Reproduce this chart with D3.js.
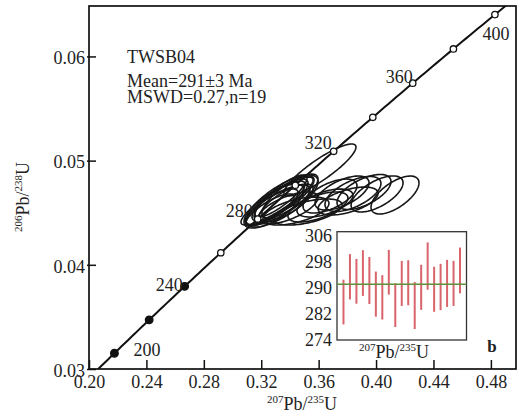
<!DOCTYPE html>
<html><head><meta charset="utf-8">
<script src="https://cdn.jsdelivr.net/npm/d3@7/dist/d3.min.js"></script>
<style>
html,body{margin:0;padding:0;background:#fff;}
svg{display:block;font-family:"Liberation Serif","Times New Roman",serif;}
</style></head><body>
<svg id="chart" width="521" height="414"></svg>
<script>
// Axis ticks
const xTicks = [0.20, 0.24, 0.28, 0.32, 0.36, 0.40, 0.44, 0.48];
const yTicks = [0.03, 0.04, 0.05, 0.06];

// Concordia age marks (Ma)
const markAges = [200, 220, 240, 260, 280, 300, 320, 340, 360, 380, 400];
const filledAges = [200, 220, 240];
const labelAges = [200, 240, 280, 320, 360, 400];

// Zircon spot analyses: 207Pb/235U, 206Pb/238U, errors and error correlation
const spotX  = [0.3296,0.3331,0.3275,0.3359,0.3317,0.3261,0.3373,0.3338,0.3310,0.3386,0.3442,0.3526,0.3595,0.3609,0.3679,0.3763,0.3839,0.3916,0.4007,0.4132,0.3805,0.3644,0.3345,0.3289,0.3400];
const spotSX = [0.0209,0.0195,0.0181,0.0209,0.0223,0.0167,0.0188,0.0181,0.0251,0.0209,0.0230,0.0237,0.0209,0.0251,0.0188,0.0188,0.0195,0.0188,0.0181,0.0167,0.0209,0.0195,0.0251,0.0209,0.0195];
const spotY  = [0.04593,0.04622,0.04555,0.04641,0.04574,0.04526,0.04593,0.04660,0.04612,0.04545,0.04516,0.04507,0.04555,0.04910,0.04660,0.04689,0.04680,0.04699,0.04680,0.04670,0.04612,0.04593,0.04612,0.04564,0.04660];
const spotSY = [0.00211,0.00202,0.00173,0.00211,0.00192,0.00154,0.00182,0.00202,0.00230,0.00154,0.00134,0.00125,0.00144,0.00250,0.00163,0.00163,0.00168,0.00168,0.00173,0.00182,0.00134,0.00134,0.00250,0.00211,0.00211];
const spotRho = [0.85,0.80,0.80,0.82,0.78,0.80,0.75,0.85,0.88,0.65,0.55,0.55,0.60,0.88,0.60,0.60,0.60,0.60,0.62,0.64,0.55,0.55,0.75,0.72,0.78];

// Inset: 206Pb/238U ages (Ma) with error bars
const insetTicks = [306, 298, 290, 282, 274];
const ageHigh = [292.4,300.3,298.8,301.5,299.4,294.9,293.8,301.6,291.3,298.2,298.4,291.7,297.0,303.9,296.4,297.3,298.5,298.2,302.3];
const ageLow  = [278.6,286.3,285.0,287.4,284.9,281.0,280.1,287.8,277.8,284.3,284.5,277.2,283.1,289.3,282.5,283.0,284.0,284.3,288.2];
const meanAge = 291;

const svg = d3.select("#chart");
const L = 89, R = 516, T = 6, B = 369;

const x = d3.scaleLinear().domain([0.20, 0.4975]).range([L, R]);
const y = d3.scaleLinear().domain([0.03, 0.06484]).range([B, T]);

// Decay constants (per year)
const l238 = 1.55125e-10, l235 = 9.8485e-10;
const conc = t => ({ r75: Math.exp(l235 * t * 1e6) - 1, r68: Math.exp(l238 * t * 1e6) - 1 });

svg.append("defs").append("clipPath").attr("id", "plotClip")
  .append("rect").attr("x", L).attr("y", T).attr("width", R - L).attr("height", B - T);

const plot = svg.append("g").attr("clip-path", "url(#plotClip)");

// Concordia curve
const curve = d3.range(150, 460, 2).map(conc);
plot.append("path")
  .datum(curve)
  .attr("d", d3.line().x(d => x(d.r75)).y(d => y(d.r68)))
  .attr("fill", "none").attr("stroke", "#111").attr("stroke-width", 2);

// Error ellipses
const ellipseLine = d3.line().x(d => x(d[0])).y(d => y(d[1])).curve(d3.curveLinearClosed);
const spots = spotX.map((v, i) => ({ cx: v, sx: spotSX[i], cy: spotY[i], sy: spotSY[i], rho: spotRho[i] }));
plot.selectAll("path.ell").data(spots).join("path")
  .attr("class", "ell")
  .attr("d", s => {
    const k = Math.sqrt(1 - s.rho * s.rho);
    const pts = d3.range(0, 2 * Math.PI, Math.PI / 60).map(a =>
      [s.cx + s.sx * Math.cos(a), s.cy + s.sy * (s.rho * Math.cos(a) + k * Math.sin(a))]);
    return ellipseLine(pts);
  })
  .attr("fill", "none").attr("stroke", "#161616").attr("stroke-width", 1.6);

// Age marks on concordia
plot.selectAll("circle.mark").data(markAges).join("circle")
  .attr("class", "mark")
  .attr("cx", a => x(conc(a).r75)).attr("cy", a => y(conc(a).r68))
  .attr("r", a => filledAges.includes(a) ? 3.8 : 3.2)
  .attr("fill", a => filledAges.includes(a) ? "#111" : "#fff")
  .attr("stroke", "#111").attr("stroke-width", 1.3);

// Age labels
const labelPos = {
  200: { dx: 19, dy: 3, anchor: "start" },
  240: { dx: -2, dy: 5, anchor: "end" },
  280: { dx: -5, dy: -2, anchor: "end" },
  320: { dx: -2, dy: -2, anchor: "end" },
  360: { dx: 0, dy: 0, anchor: "end" },
  400: { dx: 1, dy: 25, anchor: "middle" }
};
svg.selectAll("text.age").data(labelAges).join("text")
  .attr("class", "age")
  .attr("x", a => x(conc(a).r75) + labelPos[a].dx)
  .attr("y", a => y(conc(a).r68) + labelPos[a].dy)
  .attr("text-anchor", a => labelPos[a].anchor)
  .attr("font-size", 18).attr("fill", "#222")
  .text(a => a);

// Frame
svg.append("rect").attr("x", L).attr("y", T).attr("width", R - L).attr("height", B - T)
  .attr("fill", "none").attr("stroke", "#111").attr("stroke-width", 1.7);

// Axes with inward ticks
const xAxis = svg.append("g").attr("transform", `translate(0,${B})`)
  .call(d3.axisTop(x).tickValues(xTicks).tickSize(9).tickFormat(d3.format(".2f")));
xAxis.select(".domain").remove();
xAxis.selectAll(".tick line").attr("stroke", "#111").attr("stroke-width", 1.5);
xAxis.selectAll(".tick text").attr("y", 19).attr("dy", 0)
  .attr("font-size", 18).attr("font-family", "Liberation Serif").attr("fill", "#222");

const yAxis = svg.append("g").attr("transform", `translate(${L},0)`)
  .call(d3.axisRight(y).tickValues(yTicks).tickSize(7).tickFormat(d3.format(".2f")));
yAxis.select(".domain").remove();
yAxis.selectAll(".tick line").attr("stroke", "#111").attr("stroke-width", 1.5).attr("x1", -2);
yAxis.selectAll(".tick text").attr("x", -4).attr("dy", "0.4em").attr("text-anchor", "end")
  .attr("font-size", 18).attr("font-family", "Liberation Serif").attr("fill", "#222");

// Axis titles
function ratioLabel(sel, a, b, c, d) {
  sel.append("tspan").attr("font-size", 11).attr("dy", -7).text(a);
  sel.append("tspan").attr("dy", 7).text(b);
  sel.append("tspan").attr("font-size", 11).attr("dy", -7).text(c);
  sel.append("tspan").attr("dy", 7).text(d);
}
const xt = svg.append("text").attr("x", 302).attr("y", 410).attr("text-anchor", "middle")
  .attr("font-size", 18).attr("fill", "#222");
ratioLabel(xt, "207", "Pb/", "235", "U");
const yt = svg.append("text").attr("transform", "translate(29,197) rotate(-90)")
  .attr("text-anchor", "middle").attr("font-size", 18).attr("fill", "#222");
ratioLabel(yt, "206", "Pb/", "238", "U");

// Sample annotation
const ann = svg.append("g").attr("font-size", 18).attr("fill", "#222");
ann.append("text").attr("x", 127).attr("y", 63).text("TWSB04");
ann.append("text").attr("x", 127).attr("y", 87).text("Mean=291±3 Ma");
ann.append("text").attr("x", 127).attr("y", 103).text("MSWD=0.27,n=19");

// Inset: weighted mean age plot
const iL = 337, iR = 466.5, iT = 231.7, iB = 340;
const ix = d3.scalePoint().domain(d3.range(ageHigh.length)).range([iL, iR]).padding(1);
const iy = d3.scaleLinear().domain([273.8, 307.2]).range([iB, iT]);
const inset = svg.append("g");
inset.append("rect").attr("x", iL).attr("y", iT).attr("width", iR - iL).attr("height", iB - iT)
  .attr("fill", "#fff").attr("stroke", "#333").attr("stroke-width", 1.3);
inset.selectAll("line.bar").data(ageHigh).join("line")
  .attr("class", "bar")
  .attr("x1", (d, i) => ix(i)).attr("x2", (d, i) => ix(i))
  .attr("y1", d => iy(d)).attr("y2", (d, i) => iy(ageLow[i]))
  .attr("stroke", "#d9646b").attr("stroke-width", 2);
inset.append("line")
  .attr("x1", iL).attr("x2", iR).attr("y1", iy(meanAge)).attr("y2", iy(meanAge))
  .attr("stroke", "#5f8f3a").attr("stroke-width", 1.6);
inset.selectAll("text.it").data(insetTicks).join("text")
  .attr("class", "it")
  .attr("x", 332).attr("y", d => iy(d)).attr("dy", "0.35em").attr("text-anchor", "end")
  .attr("font-size", 18).attr("fill", "#222").text(d => d);
const it = inset.append("text").attr("x", 394).attr("y", 358).attr("text-anchor", "middle")
  .attr("font-size", 18).attr("fill", "#222");
ratioLabel(it, "207", "Pb/", "235", "U");

svg.append("text").attr("x", 492).attr("y", 352).attr("text-anchor", "middle")
  .attr("font-size", 17).attr("font-weight", "bold").attr("fill", "#222").text("b");
</script>
</body></html>
